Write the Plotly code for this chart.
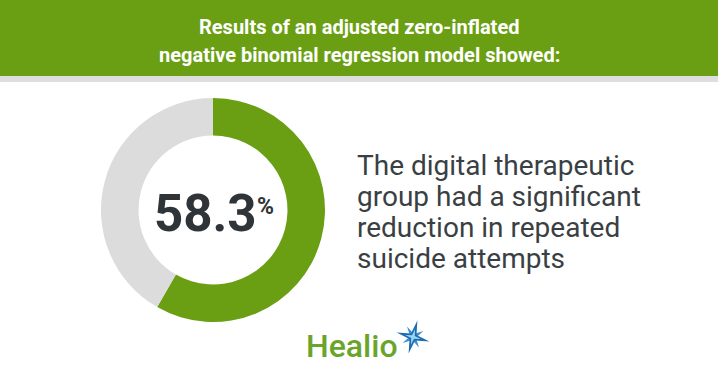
import math
import plotly.graph_objects as go

# ---- data ----
labels = ["Reduction in repeated suicide attempts", "Remainder"]
values = [58.3, 41.7]
slice_colors = ["#6a9f14", "#dcdcdc"]
header_lines = ["Results of an adjusted zero-inflated",
                "negative binomial regression model showed:"]
body_lines = ["The digital therapeutic",
              "group had a significant",
              "reduction in repeated",
              "suicide attempts"]
brand = "Healio"

W, H = 718, 377


def px(x):
    return x / W


def py(y):
    return 1 - y / H


fig = go.Figure()

cx, cy, r = 213, 210, 112
fig.add_trace(go.Pie(
    labels=labels, values=values, hole=0.665, sort=False,
    direction="clockwise", rotation=0,
    marker=dict(colors=slice_colors, line=dict(width=0)),
    textinfo="none", hoverinfo="skip", showlegend=False,
    domain=dict(x=[px(cx - r), px(cx + r)], y=[py(cy + r), py(cy - r)]),
))

shapes = [
    dict(type="rect", xref="paper", yref="paper", x0=0, x1=1, y0=py(76), y1=1,
         fillcolor="#6a9f14", line=dict(width=0), layer="below"),
    dict(type="rect", xref="paper", yref="paper", x0=0, x1=1, y0=py(82), y1=py(76),
         fillcolor="#dedede", line=dict(width=0), layer="below"),
]


def star(cxs, cys, r_out, r_in, rot, n=4):
    pts = []
    for k in range(2 * n):
        ang = math.radians(rot + k * 180 / n)
        rad = r_out if k % 2 == 0 else r_in
        pts.append((cxs + rad * math.cos(ang), cys + rad * math.sin(ang)))
    return "M " + " L ".join(f"{px(x):.5f},{py(y):.5f}" for x, y in pts) + " Z"


# decorative logo star
shapes.append(dict(type="path", xref="paper", yref="paper",
                   path=star(413, 337, 12, 3, -30, 4),
                   fillcolor="#3b8fd0", line=dict(width=0)))
shapes.append(dict(type="path", xref="paper", yref="paper",
                   path=star(413, 337, 17, 4, -75, 4),
                   fillcolor="#1e6db4", line=dict(width=0)))
shapes.append(dict(type="path", xref="paper", yref="paper",
                   path=star(413, 337, 8, 2, -75, 4),
                   fillcolor="#9ad6f2", line=dict(width=0)))

ann = []
hfont = dict(family="Roboto", size=20, color="white", weight="bold")
for i, t in enumerate(header_lines):
    ann.append(dict(text=t, x=0.5, y=py(27 + i * 28), xref="paper", yref="paper",
                    xanchor="center", yanchor="middle", showarrow=False, font=hfont))

bfont = dict(family="Roboto", size=28, color="#3a3f44")
for i, t in enumerate(body_lines):
    ann.append(dict(text=t, x=px(355), y=py(165 + i * 31), xref="paper", yref="paper",
                    xanchor="left", yanchor="middle", showarrow=False, font=bfont))

ann.append(dict(text=f"{values[0]}", x=px(259), y=py(213), xref="paper", yref="paper",
                xanchor="right", yanchor="middle", showarrow=False,
                font=dict(family="Roboto", size=51, color="#2f3438", weight="bold")))
ann.append(dict(text="%", x=px(255), y=py(206), xref="paper", yref="paper",
                xanchor="left", yanchor="middle", showarrow=False,
                font=dict(family="Roboto", size=23, color="#2f3438", weight="bold")))

ann.append(dict(text=brand, x=px(304), y=py(346), xref="paper", yref="paper",
                xanchor="left", yanchor="middle", showarrow=False,
                font=dict(family="Roboto", size=32, color="#6aa52b", weight=500)))

fig.update_layout(
    width=W, height=H, margin=dict(l=0, r=0, t=0, b=0),
    paper_bgcolor="white", plot_bgcolor="white",
    shapes=shapes, annotations=ann,
)

fig.write_html("out.html")
